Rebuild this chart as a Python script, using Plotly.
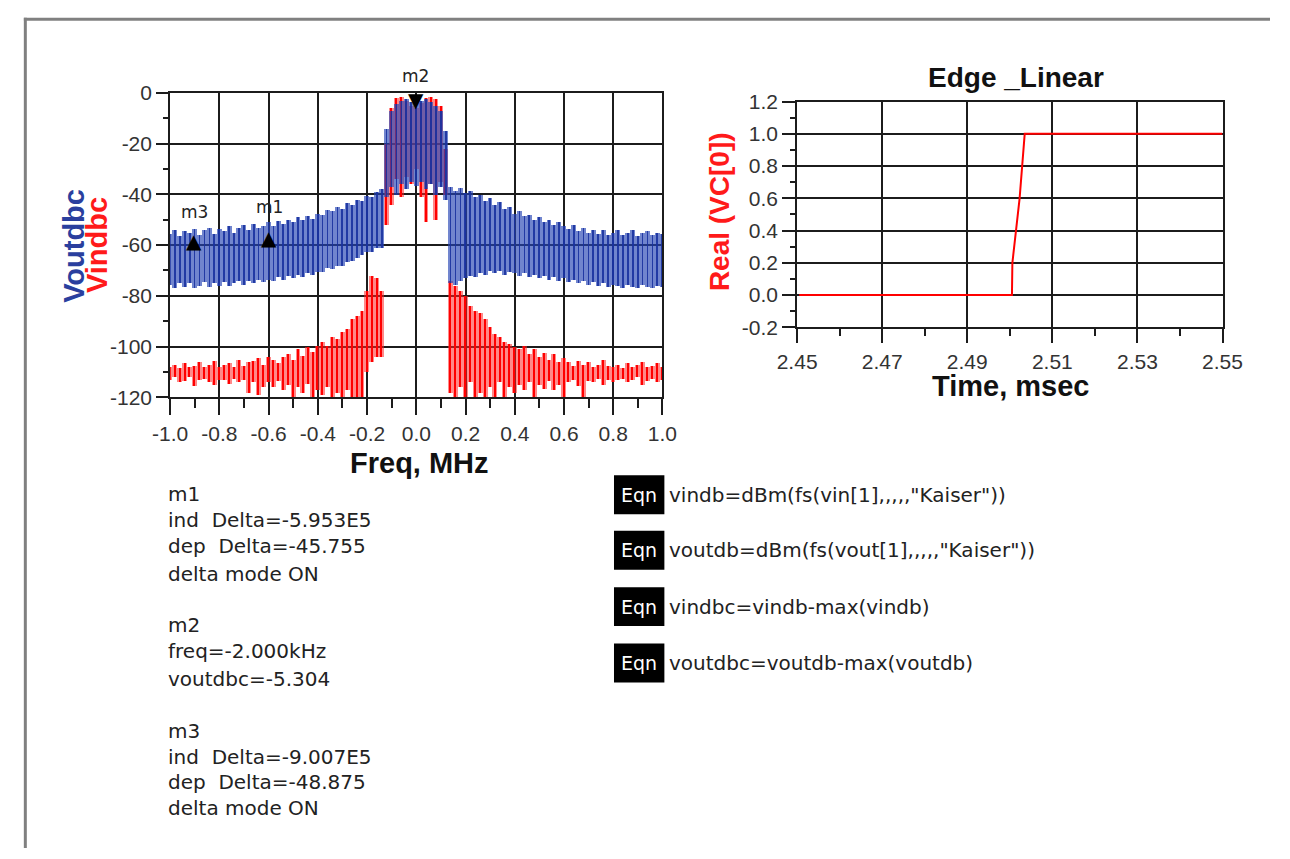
import numpy as np
import plotly.graph_objects as go

# ---------------- data ----------------
# spectrum sampled every 0.02 MHz from -1.0 to 1.0 (101 bins)
freq = np.round(np.arange(101) * 0.02 - 1.0, 3)

vout_hi = [-55.5, -54, -56.5, -54.5, -55, -53.5, -56, -54, -53, -55.5,
           -53.5, -54.5, -52.5, -55, -53, -52, -54, -51.5, -53, -52.5,
           -51, -52.5, -50.5, -51.5, -50, -51, -49, -50, -48.5, -49.5,
           -47.5, -48, -46, -46.5, -45, -45.5, -43.5, -44, -42, -42.5,
           -40.5, -41, -39, -38, -14, -7, -4.5, -3, -2.5, -3.5,
           -2, -3, -2.5, -3.5, -5, -7, -15, -37, -38.5, -37.5,
           -39.5, -38.5, -41, -40, -42.5, -41.5, -44, -43, -45.5, -45,
           -47.5, -46.5, -48.5, -48, -50, -49, -51, -50, -52, -51,
           -52.5, -53.5, -52, -54.5, -53, -55, -54, -55.5, -54, -56,
           -55, -54, -56, -55, -54, -56.5, -55, -54.5, -56, -55, -55.5]
vout_lo = [-75.5, -77, -75, -76.5, -75, -77, -76, -74.5, -76.5, -75,
           -76, -74.5, -76, -75, -74, -75.5, -74, -75, -73.5, -74.5,
           -73.5, -74, -72.5, -73.5, -72, -73, -71.5, -72.5, -71, -71.5,
           -70.5, -70.5, -69, -69.5, -68, -68, -66.5, -66, -65, -64,
           -62.5, -62.5, -61, -61, -41, -37, -40, -36, -38, -35,
           -36.5, -35, -38, -36, -40, -37, -42, -75, -75.5, -74,
           -73, -72, -72.5, -71, -71.5, -70, -71, -70, -71.5, -70.5,
           -71, -72, -71, -72.5, -71.5, -73, -72, -73.5, -72.5, -74,
           -73, -74.5, -73.5, -75, -74, -75.5, -74.5, -76, -75, -76.5,
           -75.5, -76, -77, -75.5, -76.5, -77, -75.5, -76.5, -77, -76, -76.5]
vin_hi = [-108, -107, -108.5, -106.5, -108, -107.5, -106, -108, -107, -105.5,
          -108, -107, -106.5, -108, -105, -107.5, -106, -105.5, -104.5, -107,
          -104, -105, -106.5, -104, -103, -105, -101, -103.5, -100, -102,
          -99.5, -98, -99.5, -96, -97, -94, -93, -89, -88, -86,
          -78, -72, -73, -78, -20, -6, -2, -1.5, -3, -5,
          -6, -4, -2, -1.5, -2.5, -5, -22, -74, -76, -78,
          -80, -84, -86, -86.5, -89, -92, -95, -96, -98, -99,
          -100, -101, -99.5, -103, -101, -104, -102.5, -105, -103, -106,
          -104.5, -106, -107.5, -105.5, -107, -106, -108, -107, -105, -107.5,
          -108, -107, -108.5, -106.5, -108, -107, -106, -108, -107.5, -106.5, -108]
vin_lo = [-113, -112, -114, -113.5, -112, -115.5, -113, -112.5, -114, -115,
          -113, -113, -114.5, -112.5, -114, -113, -118, -114, -119, -116,
          -114, -116, -113.5, -117, -115, -121, -116, -118, -114.5, -120,
          -117, -119, -116, -121, -118, -121, -117, -121, -120, -121,
          -110, -106, -104, -104, -52, -44, -34, -41, -33, -36,
          -30, -41, -51, -36, -50, -35, -40, -118, -121, -116,
          -121, -114, -121, -118, -121, -116, -120, -114, -121, -116,
          -118, -115, -117, -114, -120, -115, -116.5, -113.5, -117, -115,
          -121, -114, -113, -115.5, -121, -113.5, -114, -112.5, -115, -113,
          -114, -113, -112.5, -114, -113, -112, -115, -113.5, -112.5, -114, -113]

# markers (delta mode, relative to m2)
m2_f, m2_v = -0.002, -5.304
m1_f, m1_v = -0.002 - 0.5953, -5.304 - 45.755
m3_f, m3_v = -0.002 - 0.9007, -5.304 - 48.875

# edge linear waveform
t_ms = [2.4505, 2.5005, 2.5006, 2.5015, 2.5023, 2.5029, 2.5035, 2.55]
vc0 = [0.0, 0.0, 0.2, 0.4, 0.6, 0.8, 1.0, 1.0]

fx_vals = [-1.0, -0.8, -0.6, -0.4, -0.2, 0.0, 0.2, 0.4, 0.6, 0.8, 1.0]
fx_text = ["-1.0", "-0.8", "-0.6", "-0.4", "-0.2", "0.0", "0.2", "0.4", "0.6", "0.8", "1.0"]
fy_vals = [0, -20, -40, -60, -80, -100, -120]
fy_text = ["0", "-20", "-40", "-60", "-80", "-100", "-120"]
tx_vals = [2.45, 2.47, 2.49, 2.51, 2.53, 2.55]
tx_text = ["2.45", "2.47", "2.49", "2.51", "2.53", "2.55"]
ty_vals = [-0.2, 0.0, 0.2, 0.4, 0.6, 0.8, 1.0, 1.2]
ty_text = ["-0.2", "0.0", "0.2", "0.4", "0.6", "0.8", "1.0", "1.2"]

marker_text = [
    ["m1", "ind\u00a0 Delta=-5.953E5", "dep\u00a0 Delta=-45.755", "delta mode ON"],
    ["m2", "freq=-2.000kHz", "voutdbc=-5.304"],
    ["m3", "ind\u00a0 Delta=-9.007E5", "dep\u00a0 Delta=-48.875", "delta mode ON"],
]
equations = ['vindb=dBm(fs(vin[1],,,,,"Kaiser"))',
             'voutdb=dBm(fs(vout[1],,,,,"Kaiser"))',
             'vindbc=vindb-max(vindb)',
             'voutdbc=voutdb-max(voutdb)']

# ---------------- figure ----------------
W, H = 1290, 859
def px(x):
    return x / W
def py(y):
    return 1 - y / H

FONT = "Liberation Sans, Arial, sans-serif"
TFONT = "DejaVu Sans, Verdana, sans-serif"
GRID = "#1c1c1c"

fig = go.Figure()
vin_hi_a, vin_lo_a = np.array(vin_hi), np.array(vin_lo)
vout_hi_a, vout_lo_a = np.array(vout_hi), np.array(vout_lo)

fig.add_trace(go.Bar(x=freq, y=vin_hi_a - vin_lo_a, base=vin_lo_a, width=0.02,
                     marker=dict(color="rgba(255,40,40,0.55)", line=dict(width=0)),
                     xaxis="x", yaxis="y", hoverinfo="skip"))
fig.add_trace(go.Bar(x=freq, y=vin_hi_a - vin_lo_a, base=vin_lo_a, width=0.006,
                     marker=dict(color="rgba(255,0,0,1)", line=dict(width=0)),
                     xaxis="x", yaxis="y", hoverinfo="skip"))
fig.add_trace(go.Bar(x=freq, y=vout_hi_a - vout_lo_a, base=vout_lo_a, width=0.02,
                     marker=dict(color="rgba(40,70,180,0.66)", line=dict(width=0)),
                     xaxis="x", yaxis="y", hoverinfo="skip"))
fig.add_trace(go.Bar(x=freq, y=vout_hi_a - vout_lo_a, base=vout_lo_a, width=0.007,
                     marker=dict(color="rgba(25,50,160,0.9)", line=dict(width=0)),
                     xaxis="x", yaxis="y", hoverinfo="skip"))

fig.add_trace(go.Scatter(x=t_ms, y=vc0, mode="lines", line=dict(color="#ff0000", width=2),
                         xaxis="x2", yaxis="y2", hoverinfo="skip"))

tickfont = dict(family=FONT, size=21, color="#333333")
common = dict(showgrid=True, gridcolor=GRID, gridwidth=2, showline=True, mirror=True,
              linecolor=GRID, linewidth=2, ticks="outside", tickwidth=2, tickcolor=GRID,
              zeroline=False, tickfont=tickfont, fixedrange=True)

fig.update_layout(
    width=W, height=H, autosize=False, margin=dict(l=0, r=0, t=0, b=0, pad=0),
    paper_bgcolor="white", plot_bgcolor="white", showlegend=False,
    barmode="overlay", bargap=0,
    xaxis=dict(domain=[px(155), px(663)], range=[-1, 1], tickvals=fx_vals, ticktext=fx_text,
               ticklen=16, minor=dict(dtick=0.1, tick0=0, ticks="outside", ticklen=9,
                                      tickwidth=2, tickcolor=GRID, showgrid=False),
               anchor="y", **common),
    yaxis=dict(domain=[py(396), py(83)], range=[-120, 0], tickvals=fy_vals, ticktext=fy_text,
               ticklen=12, minor=dict(dtick=10, tick0=0, ticks="outside", ticklen=5,
                                      tickwidth=2, tickcolor=GRID, showgrid=False),
               anchor="x", **common),
    xaxis2=dict(domain=[px(802), px(1241)], range=[2.45, 2.55], tickvals=tx_vals, ticktext=tx_text,
                ticklen=14, minor=dict(dtick=0.01, tick0=2.45, ticks="outside", ticklen=7,
                                       tickwidth=2, tickcolor=GRID, showgrid=False),
                anchor="y2", **common),
    yaxis2=dict(domain=[py(324), py(92)], range=[-0.2, 1.2], tickvals=ty_vals, ticktext=ty_text,
                ticklen=13, minor=dict(dtick=0.1, tick0=0, ticks="outside", ticklen=5,
                                       tickwidth=2, tickcolor=GRID, showgrid=False),
                anchor="x2", **common),
)

ann = []
def add_text(x, y, text, size=18, color="#222222", bold=False, xanchor="left",
             yanchor="middle", angle=0, family=FONT):
    t = "<b>%s</b>" % text if bold else text
    ann.append(dict(x=px(x), y=py(y), xref="paper", yref="paper", text=t, showarrow=False,
                    xanchor=xanchor, yanchor=yanchor, textangle=angle,
                    font=dict(family=family, size=size, color=color)))

# axis titles
add_text(412, 463, "Freq, MHz", size=29, color="#111111", bold=True, xanchor="center")
add_text(1022, 384, "Time, msec", size=29, color="#111111", bold=True, xanchor="center")
add_text(1028, 67, "Edge _Linear", size=28, color="#111111", bold=True, xanchor="center")
add_text(55, 240, "Voutdbc", size=29, color="#2a3f9e", bold=True, xanchor="center", angle=-90)
add_text(79, 240, "Vindbc", size=29, color="#ff1a1a", bold=True, xanchor="center", angle=-90)
add_text(722, 205, "Real (VC[0])", size=28, color="#ff1a1a", bold=True, xanchor="center", angle=-90)

# marker text blocks
block_y = [[495, 522, 549, 577], [630, 657, 685], [739, 765, 791, 818]]
for lines, ys in zip(marker_text, block_y):
    for s, y in zip(lines, ys):
        add_text(151, y, s, size=20, family=TFONT)

# equations
eq_y = [496, 553, 611, 669]
shapes = []
for s, y in zip(equations, eq_y):
    shapes.append(dict(type="rect", xref="paper", yref="paper", x0=px(613), x1=px(665),
                       y0=py(y + 20), y1=py(y - 20), fillcolor="black", line=dict(width=0)))
    add_text(639, y, "Eqn", size=19, color="white", xanchor="center", family=TFONT)
    add_text(668, y, s, size=20, family=TFONT)

# markers on spectrum
mk = [(m2_f, m2_v, "\u25bc", "bottom", "m2", -8, 18),
      (m1_f, m1_v, "\u25b2", "top", "m1", -2, 3),
      (m3_f, m3_v, "\u25b2", "top", "m3", 3, 6)]
for f, v, sym, ya, lab, sh, lsh in mk:
    ann.append(dict(x=f, y=v, xref="x", yref="y", text=sym, showarrow=False,
                    xanchor="center", yanchor=ya, yshift=sh,
                    font=dict(family="DejaVu Sans", size=20, color="black")))
    ann.append(dict(x=f, y=v, xref="x", yref="y", text=lab, showarrow=False,
                    xanchor="center", yanchor="bottom", yshift=lsh,
                    font=dict(family=TFONT, size=17, color="#222222")))

# page frame
shapes.append(dict(type="line", xref="paper", yref="paper", x0=px(4), x1=1, y0=py(7.5), y1=py(7.5),
                   line=dict(color="#808080", width=3)))
shapes.append(dict(type="line", xref="paper", yref="paper", x0=px(5.5), x1=px(5.5), y0=0, y1=py(6),
                   line=dict(color="#808080", width=3)))

fig.update_layout(annotations=ann, shapes=shapes)
fig.write_html(
    "out.html",
    config={"responsive": False, "displayModeBar": False},
    post_script="document.body.style.margin='0';document.body.style.padding='0';"
                "document.body.style.overflow='hidden';",
)
